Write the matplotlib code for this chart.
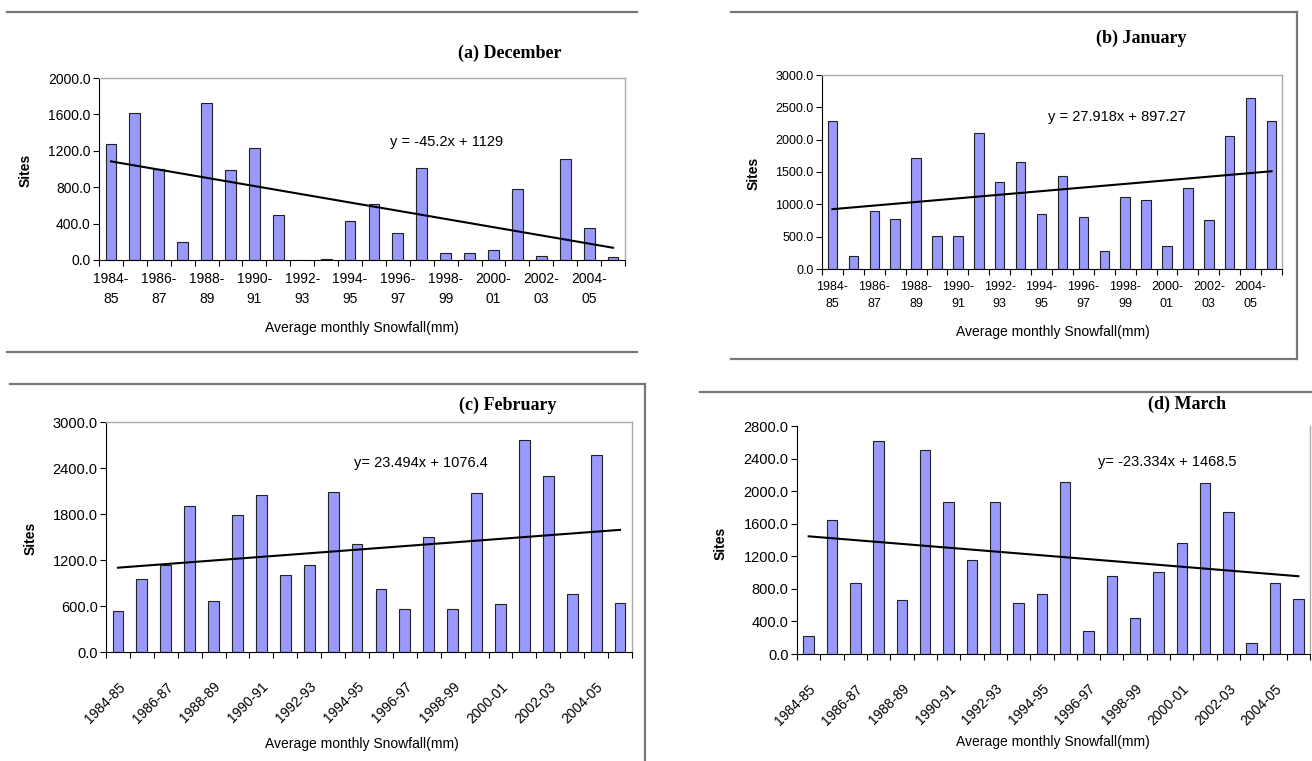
import numpy as np
import matplotlib.pyplot as plt
from matplotlib.lines import Line2D

seasons = ["1984-85", "1985-86", "1986-87", "1987-88", "1988-89", "1989-90",
           "1990-91", "1991-92", "1992-93", "1993-94", "1994-95", "1995-96",
           "1996-97", "1997-98", "1998-99", "1999-00", "2000-01", "2001-02",
           "2002-03", "2003-04", "2004-05", "2005-06"]

december = [1280, 1610, 1000, 200, 1730, 990, 1230, 490, 0, 15, 430,
            610, 295, 1010, 75, 75, 110, 775, 40, 1115, 355, 30]
january = [2290, 195, 900, 780, 1710, 510, 510, 2100, 1340, 1660, 850,
           1440, 800, 280, 1110, 1060, 360, 1250, 760, 2060, 2640, 2290]
february = [530, 950, 1140, 1900, 660, 1790, 2050, 1000, 1140, 2090, 1410,
            820, 560, 1500, 560, 2080, 620, 2770, 2290, 760, 2570, 640]
march = [220, 1640, 870, 2620, 660, 2510, 1870, 1160, 1870, 630, 740,
         2110, 280, 960, 440, 1010, 1360, 2100, 1740, 140, 870, 670]

# trend line coefficients (slope, intercept) as printed on the charts
trend_dec = (-45.2, 1129)
trend_jan = (27.918, 897.27)
trend_feb = (23.494, 1076.4)
trend_mar = (-23.334, 1468.5)

W, H = 1312, 761
BAR = "#9999ff"
GRAY = "#777777"


def px(x, y):
    return x / W, 1 - y / H


def box(l, t, r, b):
    return [l / W, 1 - b / H, (r - l) / W, (b - t) / H]


def panel(fig, rect, values, trend, ymax, ystep, rotated, tick_fs, title,
          title_xy, eq_text, eq_xy, ylab_xy, xlab_xy, top_spine=True):
    ax = fig.add_axes(rect)
    x = np.arange(len(values))
    ax.bar(x, values, width=0.45, color=BAR, edgecolor="#222222", linewidth=0.8)
    slope, icpt = trend
    ax.plot(x, slope * (x + 1) + icpt, color="black", lw=1.5)

    ax.set_xlim(-0.5, len(values) - 0.5)
    ax.set_ylim(0, ymax)
    ax.set_yticks(np.arange(0, ymax + 1, ystep))
    ax.set_yticklabels([f"{v:.1f}" for v in np.arange(0, ymax + 1, ystep)],
                       fontsize=tick_fs, family="Liberation Sans")
    ax.tick_params(axis="y", length=4, width=0.8, pad=2)

    idx = list(range(0, len(values), 2))
    ax.set_xticks(idx)
    if rotated:
        ax.set_xticklabels([seasons[i] for i in idx], rotation=45, ha="right",
                           rotation_mode="anchor", fontsize=10,
                           family="Liberation Sans")
        ax.tick_params(axis="x", length=0, pad=20)
    else:
        ax.set_xticklabels([seasons[i].replace("-", "-\n") for i in idx],
                           fontsize=tick_fs, family="Liberation Sans",
                           linespacing=1.5)
        ax.tick_params(axis="x", length=0, pad=9)
    ax.set_xticks(np.arange(-0.5, len(values), 1), minor=True)
    ax.tick_params(axis="x", which="minor", length=4, width=0.8)

    for s in ["left", "bottom"]:
        ax.spines[s].set_color("black")
        ax.spines[s].set_linewidth(0.8)
    for s in ["top", "right"]:
        ax.spines[s].set_color("#aaaaaa")
        ax.spines[s].set_linewidth(1.0)
    if not top_spine:
        ax.spines["top"].set_visible(False)

    fig.text(*px(*title_xy), title, ha="center", va="center", fontsize=13,
             fontweight="bold", family="Liberation Serif")
    fig.text(*px(*eq_xy), eq_text, ha="left", va="center", fontsize=10.5,
             family="Liberation Sans")
    fig.text(*px(*ylab_xy), "Sites", ha="center", va="center", rotation=90,
             fontsize=10, fontweight="bold", family="Liberation Sans")
    fig.text(*px(*xlab_xy), "Average monthly Snowfall(mm)", ha="center",
             va="center", fontsize=10, family="Liberation Sans")
    return ax


fig = plt.figure(figsize=(W / 100, H / 100), dpi=100)

panel(fig, box(99, 78, 625, 260), december, trend_dec, 2000, 400, False, 10,
      "(a) December", (510, 53), "y = -45.2x + 1129", (390, 142),
      (26, 170), (362, 328))
panel(fig, box(822, 75, 1282, 269), january, trend_jan, 3000, 500, False, 9,
      "(b) January", (1141, 38), "y = 27.918x + 897.27", (1048, 117),
      (754, 173), (1053, 332))
panel(fig, box(106, 422, 632, 652), february, trend_feb, 3000, 600, True, 10.5,
      "(c) February", (508, 405), "y= 23.494x + 1076.4", (354, 463),
      (31, 538), (362, 744))
panel(fig, box(797, 426, 1310, 654), march, trend_mar, 2800, 400, True, 10.5,
      "(d) March", (1187, 404), "y= -23.334x + 1468.5", (1098, 462),
      (721, 543), (1053, 742), top_spine=False)

# separating rules around the panels
rules = [
    ((7, 637), (12, 12)), ((7, 637), (352, 352)),
    ((731, 1297), (12, 12)), ((1297, 1297), (12, 359)), ((731, 1297), (359, 359)),
    ((10, 645), (384, 384)), ((645, 645), (384, 761)),
    ((700, 1312), (392, 392)),
]
for (x0, x1), (y0, y1) in rules:
    fig.add_artist(Line2D([x0 / W, x1 / W], [1 - y0 / H, 1 - y1 / H],
                          color=GRAY, lw=1.6, transform=fig.transFigure))

fig.savefig("out.png", dpi=100)
